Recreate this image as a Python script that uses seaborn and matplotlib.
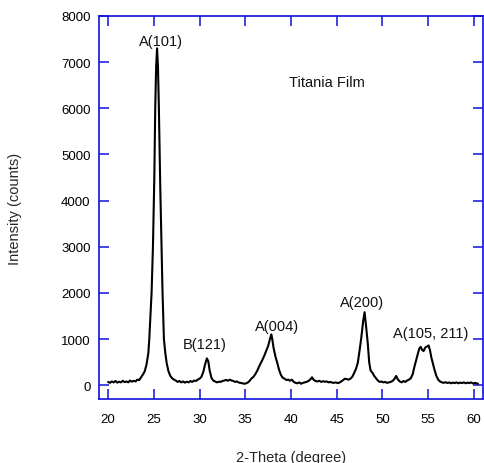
import matplotlib
matplotlib.use("Agg")
import matplotlib.pyplot as plt
import seaborn as sns
import pandas as pd

two_theta = [
    20.0, 20.2, 20.4, 20.6, 20.8, 21.0, 21.2, 21.4, 21.6, 21.8, 22.0, 22.2, 22.4, 22.6, 22.8,
    23.0, 23.2, 23.4, 23.6, 23.8, 24.0, 24.2, 24.4, 24.5, 24.6, 24.75, 24.9, 25.05, 25.15, 25.25,
    25.35, 25.45, 25.55, 25.7, 25.84, 25.95, 26.1, 26.25, 26.4, 26.6, 26.8, 27.0, 27.2, 27.4, 27.6,
    27.8, 28.0, 28.2, 28.4, 28.6, 28.8, 29.0, 29.2, 29.4, 29.6, 29.8, 30.0, 30.2, 30.4, 30.6,
    30.8, 30.95, 31.1, 31.3, 31.5, 31.7, 31.9, 32.1, 32.3, 32.5, 32.7, 32.9, 33.1, 33.3, 33.5,
    33.7, 33.9, 34.1, 34.3, 34.5, 34.7, 34.9, 35.1, 35.3, 35.5, 35.7, 35.9, 36.1, 36.3, 36.5,
    36.7, 36.9, 37.1, 37.3, 37.5, 37.7, 37.85, 37.95, 38.1, 38.3, 38.5, 38.7, 38.9, 39.1, 39.3,
    39.5, 39.7, 39.9, 40.1, 40.3, 40.5, 40.7, 40.9, 41.1, 41.3, 41.5, 41.7, 41.9, 42.1, 42.3,
    42.5, 42.7, 42.9, 43.1, 43.3, 43.5, 43.7, 43.9, 44.1, 44.3, 44.5, 44.7, 44.9, 45.1, 45.3,
    45.5, 45.7, 45.9, 46.1, 46.3, 46.5, 46.7, 46.9, 47.1, 47.3, 47.5, 47.7, 47.9, 48.05, 48.2,
    48.4, 48.55, 48.7, 48.9, 49.1, 49.3, 49.5, 49.7, 49.9, 50.1, 50.3, 50.5, 50.7, 50.9, 51.1,
    51.3, 51.5, 51.7, 51.9, 52.1, 52.3, 52.5, 52.7, 52.9, 53.1, 53.3, 53.5, 53.7, 53.9, 54.05,
    54.2, 54.35, 54.5, 54.7, 54.9, 55.05, 55.2, 55.35, 55.5, 55.7, 55.9, 56.1, 56.3, 56.5, 56.7,
    56.9, 57.1, 57.3, 57.5, 57.7, 57.9, 58.1, 58.3, 58.5, 58.7, 58.9, 59.1, 59.3, 59.5, 59.7,
    59.9, 60.1, 60.3, 60.45,
]
intensity = [
    70, 50, 80, 60, 90, 55, 75, 60, 95, 65, 80, 60, 100, 75, 95,
    80, 120, 110, 170, 230, 300, 450, 700, 1000, 1400, 2000, 3000, 4500, 6000, 6900,
    7300, 6900, 6000, 4300, 3000, 2000, 1000, 700, 480, 300, 200, 150, 120, 100, 70,
    90, 60, 80, 55, 75, 60, 90, 70, 100, 90, 120, 140, 180, 280, 450,
    580, 520, 320, 160, 100, 80, 60, 75, 70, 90, 100, 115, 95, 120, 100,
    90, 70, 80, 55, 50, 40, 30, 40, 60, 100, 150, 180, 240, 310, 400,
    480, 560, 650, 750, 850, 1000, 1100, 1000, 800, 620, 480, 330, 220, 160, 140,
    110, 120, 95, 120, 70, 50, 40, 60, 30, 50, 60, 70, 90, 120, 170,
    110, 90, 80, 95, 70, 85, 75, 80, 60, 70, 55, 50, 60, 45, 55,
    80, 110, 140, 130, 120, 140, 180, 260, 350, 480, 750, 1050, 1400, 1580, 1300,
    900, 500, 320, 270, 200, 150, 100, 70, 80, 60, 70, 50, 60, 70, 90,
    130, 200, 120, 80, 60, 90, 70, 100, 120, 150, 230, 400, 550, 700, 800,
    830, 760, 740, 820, 840, 860, 760, 600, 480, 330, 200, 120, 80, 60, 50,
    65, 45, 60, 40, 55, 45, 60, 40, 55, 45, 60, 40, 55, 45, 60,
    35, 50, 40, 30,
]

peak_labels = ["A(101)", "B(121)", "A(004)", "A(200)", "A(105, 211)"]
peak_label_x = [25.76, 30.6, 38.44, 47.73, 55.27]
peak_label_y = [7460, 890, 1287, 1794, 1121]

x_ticks = [20, 25, 30, 35, 40, 45, 50, 55, 60]
y_ticks = [0, 1000, 2000, 3000, 4000, 5000, 6000, 7000, 8000]

sns.set_style("white")
plt.rcParams["font.family"] = ["Liberation Sans", "DejaVu Sans"]

df = pd.DataFrame({"two_theta": two_theta, "intensity": intensity})

fig = plt.figure(figsize=(4.84, 4.64), dpi=100)
ax = fig.add_axes([99 / 484, 1 - 400 / 464, 384 / 484, 383 / 464])

sns.lineplot(data=df, x="two_theta", y="intensity", ax=ax, color="black",
             linewidth=1.5, estimator=None)

ax.set_xlim(19, 61)
ax.set_ylim(-300, 8000)
ax.set_xticks(x_ticks)
ax.set_yticks(y_ticks)

blue = "#1010dd"
for s in ax.spines.values():
    s.set_visible(True)
    s.set_color(blue)
    s.set_linewidth(1.2)

ax.tick_params(axis="both", which="major", direction="in", length=7, width=1.1,
               color=blue, labelsize=9.5, labelcolor="black",
               top=True, right=True, bottom=True, left=True,
               labeltop=False, labelright=False)
ax.tick_params(axis="x", pad=10)
ax.tick_params(axis="y", pad=6)

for lab, xx, yy in zip(peak_labels, peak_label_x, peak_label_y):
    ax.text(xx, yy, lab, ha="center", va="center", fontsize=10.5, color="#111111")

ax.text(39.74, 6570, "Titania Film", ha="left", va="center", fontsize=10.5, color="#111111")

ax.set_xlabel("2-Theta (degree)", fontsize=10.5)
ax.set_ylabel("Intensity (counts)", fontsize=10.5)
ax.xaxis.set_label_coords(0.5, -0.133)
ax.yaxis.set_label_coords(-0.20, 0.5)

fig.savefig("out.png", dpi=100)
